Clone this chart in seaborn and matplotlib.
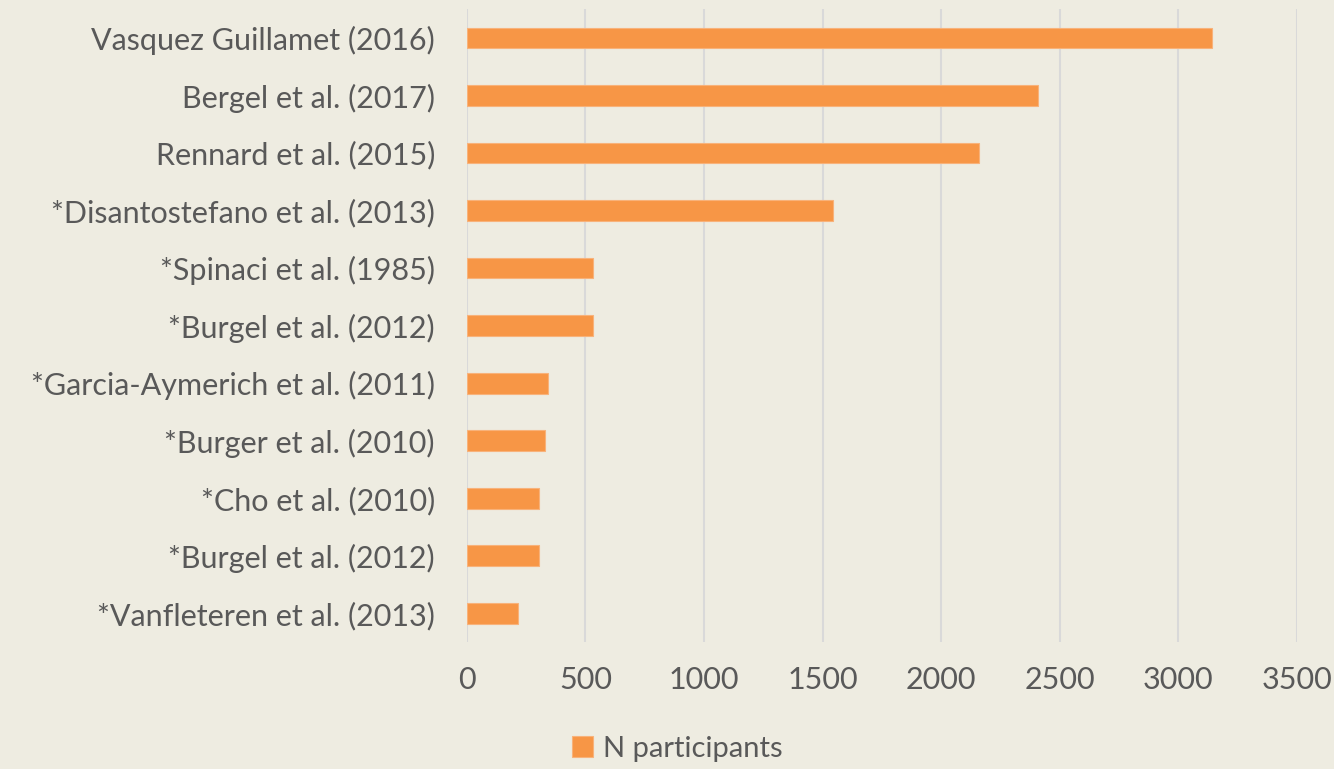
import matplotlib
matplotlib.use("Agg")
import matplotlib.pyplot as plt
import seaborn as sns
import pandas as pd

studies = [
    "Vasquez Guillamet (2016)",
    "Bergel et al. (2017)",
    "Rennard et al. (2015)",
    "*Disantostefano et al. (2013)",
    "*Spinaci et al. (1985)",
    "*Burgel et al. (2012)",
    "*Garcia-Aymerich et al. (2011)",
    "*Burger et al. (2010)",
    "*Cho et al. (2010)",
    "*Burgel et al. (2012)",
    "*Vanfleteren et al. (2013)",
]
participants = [3141, 2410, 2159, 1543, 531, 531, 340, 329, 306, 306, 216]
xticks = [0, 500, 1000, 1500, 2000, 2500, 3000, 3500]
series_name = "N participants"

bg = "#EEECE1"
bar_color = "#F79646"
text_color = "#595959"

sns.set_theme(style="white")
plt.rcParams["font.family"] = ["Lato", "DejaVu Sans"]

# unique keys so that duplicate study names stay separate rows
df = pd.DataFrame({"key": [f"{i}" for i in range(len(studies))],
                   "study": studies, "n": participants})

fig = plt.figure(figsize=(13.34, 7.69), dpi=100, facecolor=bg)
ax = fig.add_axes([0.350, 0.165, 0.622, 0.823])
ax.set_facecolor(bg)

sns.barplot(data=df, y="key", x="n", orient="h", color=bar_color,
            saturation=1, width=0.36, ax=ax, label=series_name, zorder=3,
            edgecolor="#F8B27A", linewidth=0.8)

ax.set_xlim(0, 3500)
ax.set_xticks(xticks)
ax.set_xticklabels([str(t) for t in xticks])
ax.set_yticks(range(len(studies)))
ax.set_yticklabels(studies)
ax.set_ylim(len(studies) - 0.5, -0.5)
ax.grid(axis="x", color="#D9D9D9", linewidth=1.5, zorder=0)
ax.grid(axis="y", visible=False)
ax.set_axisbelow(True)
for s in ax.spines.values():
    s.set_visible(False)
ax.tick_params(axis="both", length=0, colors=text_color, labelsize=22)
ax.tick_params(axis="x", pad=17)
ax.tick_params(axis="y", pad=23)
ax.set_xlabel("")
ax.set_ylabel("")

leg = ax.legend(loc="center", bbox_to_anchor=(0.508, 0.026),
                bbox_transform=fig.transFigure, frameon=False,
                fontsize=21, handlelength=0.72, handleheight=0.72,
                handletextpad=0.35, labelcolor=text_color)

fig.savefig("out.png", dpi=100, facecolor=bg)
